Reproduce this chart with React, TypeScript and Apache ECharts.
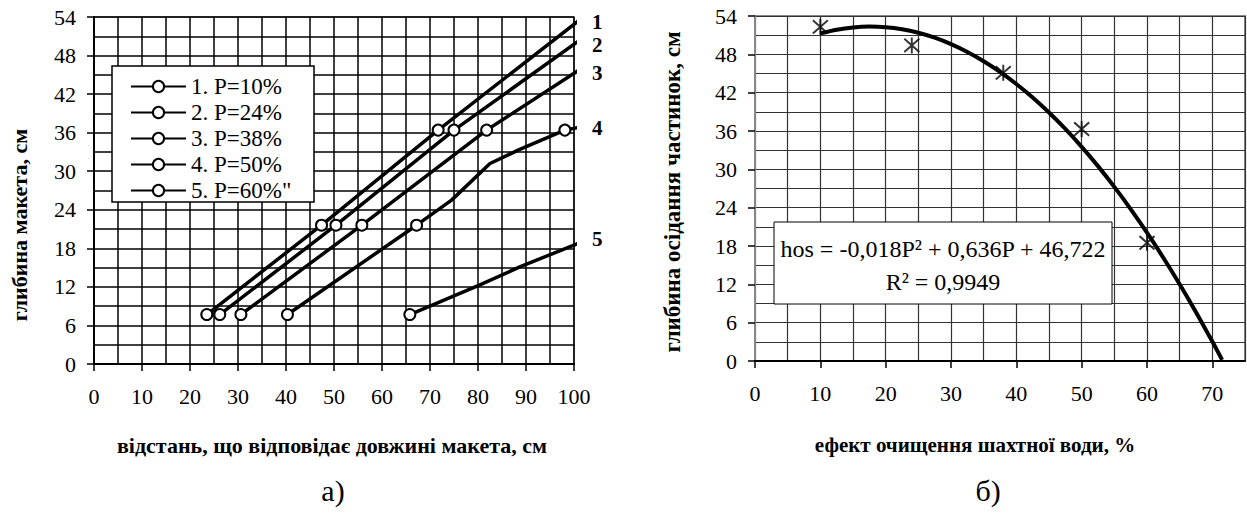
import React, { useEffect, useRef } from 'react';
import * as echarts from 'echarts';

const FONT = 'Liberation Serif';

// ---- left chart (а) ----
const leftNames = ['1. P=10%', '2. P=24%', '3. P=38%', '4. P=50%', '5. P=60%"'];
const leftTags = ['1', '2', '3', '4', '5'];

const line1X = [23.5, 47.4, 71.7, 101.6];
const line1Y = [7.7, 21.6, 36.4, 53.8];
const line1Marker = [1, 1, 1, 0];

const line2X = [26.2, 50.4, 75.0, 101.6];
const line2Y = [7.7, 21.6, 36.4, 50.6];
const line2Marker = [1, 1, 1, 0];

const line3X = [30.6, 55.8, 81.8, 101.6];
const line3Y = [7.7, 21.6, 36.4, 46.0];
const line3Marker = [1, 1, 1, 0];

const line4X = [40.3, 67.2, 74.5, 82.5, 88.7, 98.1, 101.6];
const line4Y = [7.7, 21.6, 25.5, 31.2, 33.4, 36.4, 36.9];
const line4Marker = [1, 1, 0, 0, 0, 1, 0];

const line5X = [65.8, 80.4, 88.7, 101.6];
const line5Y = [7.7, 12.3, 15.1, 19.0];
const line5Marker = [1, 0, 0, 0];

const leftLinesX = [line1X, line2X, line3X, line4X, line5X];
const leftLinesY = [line1Y, line2Y, line3Y, line4Y, line5Y];
const leftLinesMarker = [line1Marker, line2Marker, line3Marker, line4Marker, line5Marker];
const tagOffsetY = [0, 3, 2, 0, -5];

// ---- right chart (б) ----
const effectP = [10, 24, 38, 50, 60];
const settleDepth = [52.3, 49.4, 45.1, 36.3, 18.5];
const trendP = [10, 12.5, 15, 17.5, 20, 22.5, 25, 27.5, 30, 32.5, 35, 37.5, 40, 42.5, 45, 47.5, 50, 52.5, 55, 57.5, 60, 62.5, 65, 67.5, 70, 71.5];
const trendH = [51.28, 51.86, 52.21, 52.34, 52.24, 51.92, 51.37, 50.6, 49.6, 48.38, 46.93, 45.26, 43.36, 41.24, 38.89, 36.32, 33.52, 30.5, 27.25, 23.78, 20.08, 16.16, 12.01, 7.64, 3.04, 0.17];
const equationText = 'hos = -0,018P² + 0,636P + 46,722';
const r2Text = 'R² = 0,9949';

const leftXTitle = 'відстань, що відповідає довжині макета, см';
const leftYTitle = 'глибина макета, см';
const rightXTitle = 'ефект очищення шахтної води, %';
const rightYTitle = 'глибина осідання частинок, см';

function axisCommon(gridColor: string, axisColor: string, gridWidth: number) {
  return {
    type: 'value' as const,
    axisLine: { show: true, onZero: false, lineStyle: { color: axisColor, width: 2 } },
    axisTick: { show: true, length: 7, lineStyle: { color: '#000', width: 1.5 } },
    splitLine: { show: true, lineStyle: { color: gridColor, width: gridWidth } },
    minorTick: { show: false, splitNumber: 2 },
    minorSplitLine: { show: true, lineStyle: { color: gridColor, width: gridWidth } },
  };
}

export default function App() {
  const ref = useRef<HTMLDivElement>(null);

  useEffect(() => {
    if (!ref.current) return;
    const chart = echarts.init(ref.current, undefined, { renderer: 'svg' });

    const leftSeries = leftNames.map((name, i) => ({
      name,
      type: 'line' as const,
      xAxisIndex: 0,
      yAxisIndex: 0,
      clip: false,
      symbol: 'circle',
      symbolSize: 11,
      itemStyle: { color: '#fff', borderColor: '#000', borderWidth: 2 },
      lineStyle: { color: '#000', width: 3.5 },
      z: 3,
      data: leftLinesX[i].map((x, j) => ({
        value: [x, leftLinesY[i][j]],
        symbol: leftLinesMarker[i][j] ? 'circle' : 'none',
      })),
      endLabel: {
        show: true,
        formatter: leftTags[i],
        color: '#000',
        fontFamily: FONT,
        fontWeight: 'bold',
        fontSize: 21,
        lineHeight: 18,
        distance: 15,
        offset: [0, tagOffsetY[i]],
      },
      emphasis: { disabled: true },
    }));

    const labelStyle = (margin: number) => ({ color: '#000', fontFamily: FONT, fontSize: 22, margin });

    const option: any = {
      animation: false,
      backgroundColor: '#fff',
      textStyle: { fontFamily: FONT },
      grid: [
        { left: 94, top: 17, width: 480, height: 347, show: true, borderColor: '#888', borderWidth: 2, backgroundColor: '#fff' },
        { left: 755, top: 16, width: 490, height: 345, show: true, borderColor: '#888', borderWidth: 2, backgroundColor: '#fff' },
      ],
      xAxis: [
        { ...axisCommon('#000', '#000', 1.5), gridIndex: 0, min: 0, max: 100, interval: 10,
          axisLabel: labelStyle(21) },
        { ...axisCommon('#333', '#000', 1.2), gridIndex: 1, min: 0, max: 75, interval: 10,
          axisLabel: { ...labelStyle(21), showMaxLabel: false } },
      ],
      yAxis: [
        { ...axisCommon('#000', '#000', 1.5), gridIndex: 0, min: 0, max: 54, interval: 6,
          axisLabel: labelStyle(18) },
        { ...axisCommon('#333', '#888', 1.2), gridIndex: 1, min: 0, max: 54, interval: 6,
          axisLabel: labelStyle(18) },
      ],
      legend: {
        data: leftNames,
        left: 130,
        top: 75,
        orient: 'vertical',
        itemWidth: 55,
        itemHeight: 14,
        itemGap: 3,
        padding: 0,
        selectedMode: false,
        textStyle: { color: '#000', fontFamily: FONT, fontSize: 23, lineHeight: 21 },
        z: 5,
      },
      graphic: {
        elements: [
          { type: 'rect', z: 3, shape: { x: 112, y: 66, width: 202, height: 136 },
            style: { fill: '#fff', stroke: '#000', lineWidth: 1.5 } },
          { type: 'rect', z: 3, shape: { x: 774, y: 222, width: 338, height: 82 },
            style: { fill: '#fff', stroke: '#000', lineWidth: 1 } },
          { type: 'text', z: 4, x: 943, y: 249,
            style: { text: equationText, fill: '#000', fontFamily: FONT, fontSize: 24, align: 'center', verticalAlign: 'middle' } },
          { type: 'text', z: 4, x: 943, y: 282,
            style: { text: r2Text, fill: '#000', fontFamily: FONT, fontSize: 24, align: 'center', verticalAlign: 'middle' } },
          { type: 'text', z: 4, x: 332, y: 445,
            style: { text: leftXTitle, fill: '#000', fontFamily: FONT, fontSize: 22, fontWeight: 'bold', align: 'center', verticalAlign: 'middle' } },
          { type: 'text', z: 4, x: 975, y: 445,
            style: { text: rightXTitle, fill: '#000', fontFamily: FONT, fontSize: 21, fontWeight: 'bold', align: 'center', verticalAlign: 'middle' } },
          { type: 'text', z: 4, x: 19, y: 225, rotation: Math.PI / 2,
            style: { text: leftYTitle, fill: '#000', fontFamily: FONT, fontSize: 22, fontWeight: 'bold', align: 'center', verticalAlign: 'middle' } },
          { type: 'text', z: 4, x: 672, y: 192, rotation: Math.PI / 2,
            style: { text: rightYTitle, fill: '#000', fontFamily: FONT, fontSize: 23, fontWeight: 'bold', align: 'center', verticalAlign: 'middle' } },
          { type: 'text', z: 4, x: 333, y: 490,
            style: { text: 'а)', fill: '#000', fontFamily: FONT, fontSize: 30, align: 'center', verticalAlign: 'middle' } },
          { type: 'text', z: 4, x: 988, y: 490,
            style: { text: 'б)', fill: '#000', fontFamily: FONT, fontSize: 30, align: 'center', verticalAlign: 'middle' } },
        ],
      },
      series: [
        ...leftSeries,
        {
          name: 'trend',
          type: 'line',
          xAxisIndex: 1,
          yAxisIndex: 1,
          smooth: 0.3,
          symbol: 'none',
          lineStyle: { color: '#000', width: 4 },
          data: trendP.map((p, i) => [p, trendH[i]]),
          z: 3,
          emphasis: { disabled: true },
        },
        {
          name: 'measured',
          type: 'scatter',
          xAxisIndex: 1,
          yAxisIndex: 1,
          symbol: 'path://M0,0L10,10M10,0L0,10M5,-1L5,11',
          symbolSize: [15, 16],
          itemStyle: { color: 'rgba(0,0,0,0)', borderColor: '#000', borderWidth: 2 },
          data: effectP.map((p, i) => [p, settleDepth[i]]),
          z: 4,
          emphasis: { disabled: true },
        },
      ],
    };

    chart.setOption(option);
    return () => chart.dispose();
  }, []);

  return (
    <div
      ref={ref}
      style={{ position: 'fixed', left: 0, top: 0, width: 1247, height: 513, background: '#fff' }}
    />
  );
}
